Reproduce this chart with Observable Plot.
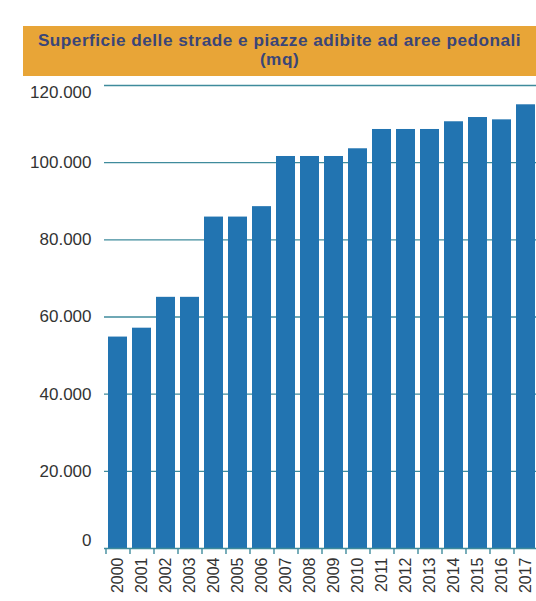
<!DOCTYPE html>
<html>
<head>
<meta charset="utf-8">
<script src="https://cdn.jsdelivr.net/npm/d3@7"></script>
<script src="https://cdn.jsdelivr.net/npm/@observablehq/plot@0.6"></script>
<style>
  html, body { margin: 0; padding: 0; background: #fff; }
  #wrap { position: relative; width: 536px; height: 601px; overflow: hidden; font-family: "Liberation Sans", Arial, sans-serif; }
  #title { position: absolute; left: 23px; top: 26px; width: 520px; height: 50px; background: #E8A537;
           color: #3a4578; font-weight: bold; font-size: 17.2px; letter-spacing: 0.5px; line-height: 19px; text-align: center;
           box-sizing: border-box; padding-top: 5px; padding-right: 7px; white-space: nowrap; }
  #chart { position: absolute; left: 0; top: 0; }
</style>
</head>
<body>
<div id="wrap">
  <div id="chart"></div>
  <div id="title">Superficie delle strade e piazze adibite ad aree pedonali<br>(mq)</div>
</div>
<script>
const years = ["2000","2001","2002","2003","2004","2005","2006","2007","2008","2009","2010","2011","2012","2013","2014","2015","2016","2017"];
const values = [54800, 57100, 65100, 65100, 85900, 85900, 88600, 101600, 101600, 101600, 103600, 108600, 108600, 108600, 110600, 111700, 111100, 115000];
const midTicks = [20000, 40000, 60000, 80000, 100000];
const topTick = [120000];
const bottomTick = [0];

const data = years.map((y, i) => ({year: y, value: values[i]}));
const fmt = d3.formatLocale({decimal: ",", thousands: ".", grouping: [3], currency: ["", "€"]}).format(",");
const teal = "#3f8b9c";

const chart = Plot.plot({
  width: 536,
  height: 601,
  marginLeft: 104,
  marginRight: 0,
  marginTop: 85,
  marginBottom: 53,
  style: {fontFamily: "Liberation Sans, Arial, sans-serif", fontSize: "17px", color: "#333", background: "transparent"},
  x: {domain: years, range: [105.5, 537.5], paddingInner: 0.2, paddingOuter: 0.1, label: null},
  y: {domain: [0, 120000], range: [548, 85], label: null},
  marks: [
    Plot.gridY([...midTicks, ...topTick], {stroke: teal, strokeOpacity: 1, strokeWidth: 1.4}),
    Plot.barY(data, {x: "year", y: "value", fill: "#2274b1"}),
    Plot.ruleY([0], {stroke: teal, strokeWidth: 1.4}),
    Plot.axisY(midTicks, {tickSize: 0, tickPadding: 13, tickFormat: fmt, fontSize: 17, fill: "#333", label: null}),
    Plot.axisY(topTick, {tickSize: 0, tickPadding: 13, tickFormat: fmt, fontSize: 17, fill: "#333", dy: 7, label: null}),
    Plot.axisY(bottomTick, {tickSize: 0, tickPadding: 13, tickFormat: fmt, fontSize: 17, fill: "#333", dy: -8, label: null}),
    Plot.axisX({tickSize: 6, stroke: teal, strokeWidth: 1.4, dx: -12, tickFormat: null, label: null}),
    Plot.axisX({tickSize: 0, tickPadding: 9, tickRotate: -90, fontSize: 16, fill: "#333", label: null})
  ]
});
document.getElementById("chart").appendChild(chart);
</script>
</body>
</html>
